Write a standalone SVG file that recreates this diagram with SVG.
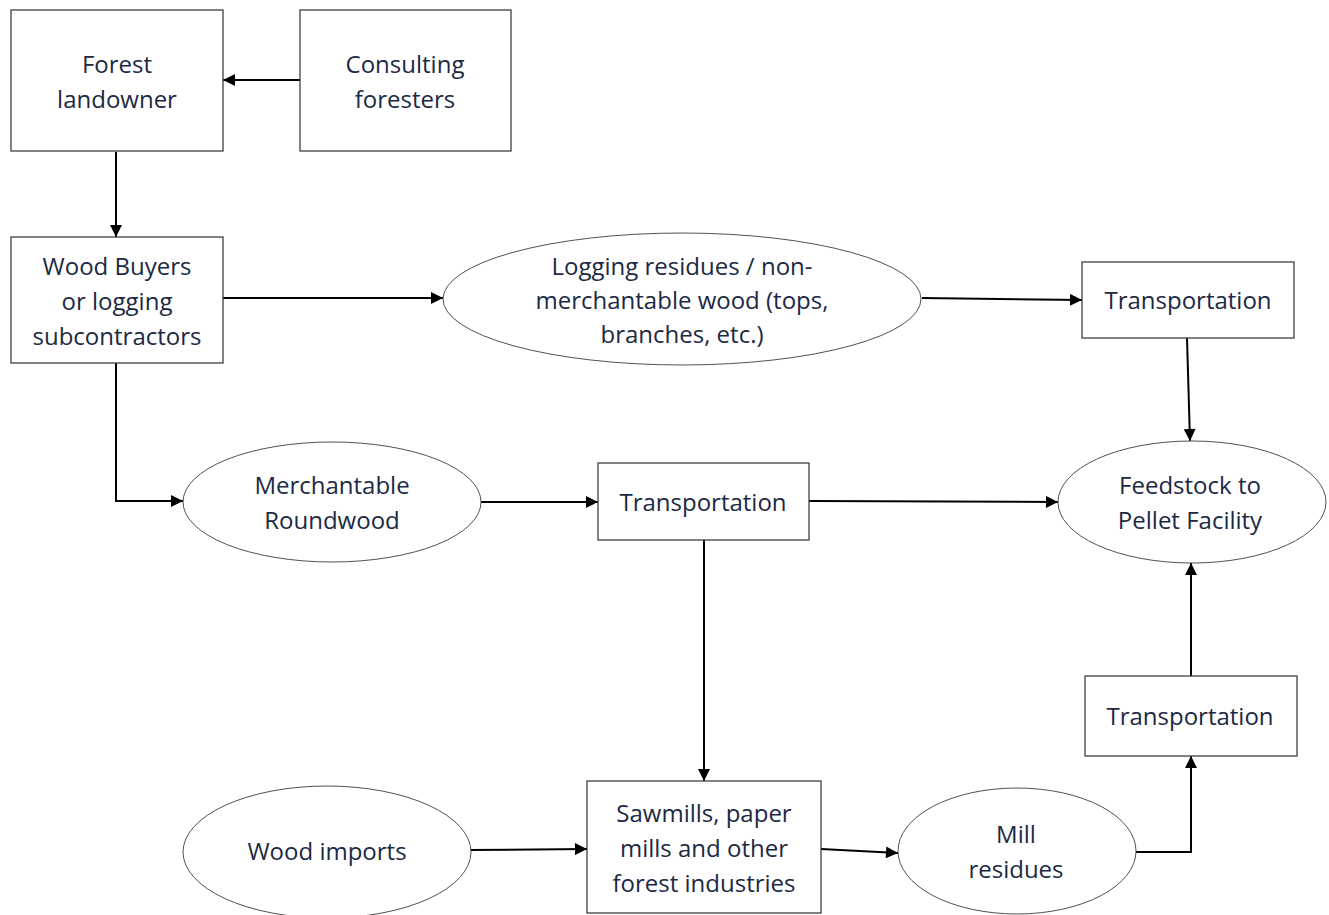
<svg xmlns="http://www.w3.org/2000/svg" width="1329" height="915" viewBox="0 0 1329 915">
  <style>
    .box { fill: #ffffff; stroke: #404040; stroke-width: 1.3; }
    .oval { fill: #ffffff; stroke: #505050; stroke-width: 1; }
    .lbl { font-family: "Open Sans", "Liberation Sans", sans-serif; font-size: 24px; fill: #1c2944; text-anchor: middle; }
    .edge { fill: none; stroke: #000000; stroke-width: 2; marker-end: url(#arrow); }
  </style>
  <defs>
    <marker id="arrow" viewBox="0 0 10 10" refX="10" refY="5" markerWidth="6.5" markerHeight="6" orient="auto" markerUnits="strokeWidth">
      <path d="M0,0 L10,5 L0,10 Z" fill="#000000"/>
    </marker>
  </defs>
  <rect width="1329" height="915" fill="#ffffff"/>

  <g id="connectors">
    <path class="edge" d="M300,80 L223,80"/>
    <path class="edge" d="M116,152 L116,237"/>
    <path class="edge" d="M223,298 L443,298"/>
    <path class="edge" d="M922,298 L1082,300"/>
    <path class="edge" d="M1187,338 L1190,441"/>
    <path class="edge" d="M116,363 L116,501 L183,501"/>
    <path class="edge" d="M481,502 L598,502"/>
    <path class="edge" d="M809,501 L1058,502"/>
    <path class="edge" d="M704,540 L704,781"/>
    <path class="edge" d="M470,850 L587,849"/>
    <path class="edge" d="M821,849 L898,853"/>
    <path class="edge" d="M1136,852 L1191,852 L1191,756"/>
    <path class="edge" d="M1191,676 L1191,563"/>
  </g>

  <g id="forest-landowner">
    <rect class="box" x="11" y="10" width="212" height="141"/>
    <text class="lbl" x="117" y="73">Forest</text>
    <text class="lbl" x="117" y="108">landowner</text>
  </g>

  <g id="consulting-foresters">
    <rect class="box" x="300" y="10" width="211" height="141"/>
    <text class="lbl" x="405" y="73">Consulting</text>
    <text class="lbl" x="405" y="108">foresters</text>
  </g>

  <g id="wood-buyers">
    <rect class="box" x="11" y="237" width="212" height="126"/>
    <text class="lbl" x="117" y="275">Wood Buyers</text>
    <text class="lbl" x="117" y="310">or logging</text>
    <text class="lbl" x="117" y="345">subcontractors</text>
  </g>

  <g id="logging-residues">
    <ellipse class="oval" cx="682" cy="299" rx="239" ry="66"/>
    <text class="lbl" x="682" y="275">Logging residues / non-</text>
    <text class="lbl" x="682" y="309">merchantable wood (tops,</text>
    <text class="lbl" x="682" y="343">branches, etc.)</text>
  </g>

  <g id="transportation-residues">
    <rect class="box" x="1082" y="262" width="212" height="76"/>
    <text class="lbl" x="1188" y="309">Transportation</text>
  </g>

  <g id="merchantable-roundwood">
    <ellipse class="oval" cx="332" cy="502" rx="149" ry="60"/>
    <text class="lbl" x="332" y="494">Merchantable</text>
    <text class="lbl" x="332" y="529">Roundwood</text>
  </g>

  <g id="transportation-roundwood">
    <rect class="box" x="598" y="463" width="211" height="77"/>
    <text class="lbl" x="703" y="511">Transportation</text>
  </g>

  <g id="feedstock">
    <ellipse class="oval" cx="1192" cy="502" rx="134" ry="61"/>
    <text class="lbl" x="1190" y="494">Feedstock to</text>
    <text class="lbl" x="1190" y="529">Pellet Facility</text>
  </g>

  <g id="transportation-mill">
    <rect class="box" x="1085" y="676" width="212" height="80"/>
    <text class="lbl" x="1190" y="725">Transportation</text>
  </g>

  <g id="wood-imports">
    <ellipse class="oval" cx="327" cy="852" rx="144" ry="66"/>
    <text class="lbl" x="327" y="860">Wood imports</text>
  </g>

  <g id="sawmills">
    <rect class="box" x="587" y="781" width="234" height="132"/>
    <text class="lbl" x="704" y="822">Sawmills, paper</text>
    <text class="lbl" x="704" y="857">mills and other</text>
    <text class="lbl" x="704" y="892">forest industries</text>
  </g>

  <g id="mill-residues">
    <ellipse class="oval" cx="1017" cy="851" rx="119" ry="63"/>
    <text class="lbl" x="1016" y="843">Mill</text>
    <text class="lbl" x="1016" y="878">residues</text>
  </g>
</svg>
